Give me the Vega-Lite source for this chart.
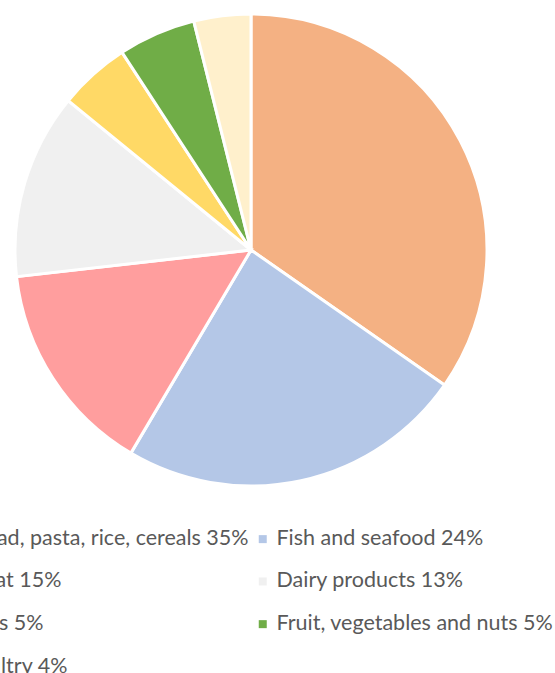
{
  "$schema": "https://vega.github.io/schema/vega-lite/v6.json",
  "width": 502,
  "height": 500,
  "padding": {"left": 0, "top": 0, "right": 53, "bottom": 173},
  "autosize": {"type": "none"},
  "background": "white",
  "data": {
    "values": [
      {"food": "Bread, pasta, rice, cereals 35%", "share": 34.7, "order": 1},
      {"food": "Fish and seafood 24%", "share": 23.8, "order": 2},
      {"food": "Meat 15%", "share": 14.7, "order": 3},
      {"food": "Dairy products 13%", "share": 12.7, "order": 4},
      {"food": "Eggs 5%", "share": 4.9, "order": 5},
      {"food": "Fruit, vegetables and nuts 5%", "share": 5.3, "order": 6},
      {"food": "Poultry 4%", "share": 3.9, "order": 7}
    ]
  },
  "mark": {"type": "arc", "outerRadius": 236, "stroke": "white", "strokeWidth": 3},
  "encoding": {
    "theta": {"field": "share", "type": "quantitative", "stack": true},
    "order": {"field": "order", "type": "quantitative"},
    "color": {
      "field": "food",
      "type": "nominal",
      "scale": {
        "domain": ["Bread, pasta, rice, cereals 35%", "Fish and seafood 24%", "Meat 15%", "Dairy products 13%", "Eggs 5%", "Fruit, vegetables and nuts 5%", "Poultry 4%"],
        "range": ["#F4B183", "#B4C7E7", "#FF9E9E", "#F0F0F0", "#FFD966", "#70AD47", "#FFF0CC"]
      },
      "legend": {
        "orient": "none",
        "direction": "horizontal",
        "legendX": -60,
        "legendY": 528,
        "title": null,
        "columns": 2,
        "symbolType": "square",
        "symbolSize": 64,
        "symbolStrokeWidth": 0,
        "labelFont": "Lato",
        "labelFontSize": 21.5,
        "labelColor": "#595959",
        "labelLimit": 400,
        "labelOffset": 3,
        "rowPadding": 19.7,
        "columnPadding": 3
      }
    }
  },
  "config": {"view": {"stroke": null}}
}
